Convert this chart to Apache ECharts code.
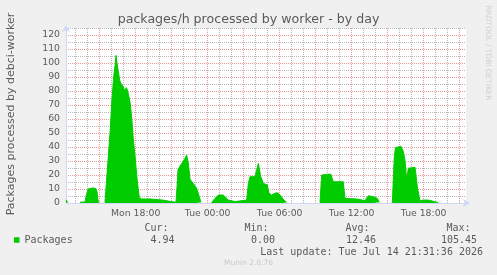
<!DOCTYPE html>
<html>
<head>
<meta charset="utf-8">
<script src="https://cdn.jsdelivr.net/npm/echarts@6/dist/echarts.min.js"></script>
<style>
  html, body { margin: 0; padding: 0; background: #f0f0f0; }
  #chart { width: 497px; height: 275px; }
</style>
</head>
<body>
<div id="chart"></div>
<script>
// ---- data (time in hours since Mon 00:00, value in packages/h; null = no data) ----
const times = [
  12.19, 12.30, 12.36, 12.8,
  13.36, 13.78, 13.90, 14.03, 14.11, 14.44, 14.69, 14.78, 14.86, 14.94, 15.2,
  15.44, 15.69, 15.86, 16.03, 16.19, 16.28, 16.36, 16.44, 16.53, 16.69, 16.83, 16.97, 17.11, 17.20, 17.30, 17.39,
  17.53, 17.67, 17.80, 17.94, 18.14, 18.30, 18.50, 19.19, 19.25, 20.25, 20.32, 20.95, 21.00, 21.36, 21.45, 21.53,
  21.84, 22.11, 22.25, 22.39, 22.53, 22.80, 23.08, 23.30, 23.44, 23.8,
  24.33, 24.61, 24.89, 25.30, 25.44, 25.72, 25.86, 26.28, 26.42, 27.25, 27.39, 27.53, 27.94, 28.09, 28.22, 28.30,
  28.42, 28.64, 28.97, 29.11, 29.33, 29.61, 29.80, 30.03, 30.30, 30.58, 31.0,
  33.36, 33.50, 33.64, 34.25, 34.47, 35.30, 35.44, 36.42, 36.55, 37.11, 37.39, 37.80, 38.14, 38.30, 38.8,
  39.39, 39.55, 39.65, 39.80, 40.10, 40.30, 40.44, 40.59, 40.72, 40.86, 41.28, 41.47, 41.69, 41.97, 42.39, 42.80, 43.22
];
const values = [
  2.2, 1.8, 0.5, null,
  0.5, 0.8, 6, 10, 10.8, 10.8, 10.2, 8, 2, 0.8, null,
  0.5, 30, 50, 75, 92, 98, 105.45, 100, 95, 87, 84.5, 83, 79.5, 82.5, 81, 78,
  72, 61, 46, 34, 15, 4, 2.9, 2.9, 2.2, 2.1, 1.0, 1.0, 0.6, 0.6, 12, 24,
  28.3, 31.9, 34.3, 28.3, 17, 14, 10.5, 4.5, 0.5, null,
  0.3, 3.3, 5.7, 5.7, 4.5, 2.1, 1.0, 1.0, 2.1, 2.1, 14, 18.8, 18.8, 23.6, 28.3, 29.5,
  19, 14, 12.9, 7, 5.7, 6.9, 7.4, 5.7, 2.6, 0.5, null,
  0.3, 20, 20.7, 20.7, 15.2, 15.2, 3.3, 2.9, 1.7, 1.7, 5.2, 4.5, 3.3, 0.5, null,
  0.3, 33, 39.5, 40.5, 40.5, 37, 30.7, 16.4, 24.8, 26, 25.5, 11.6, 1.5, 2.1, 2.1, 1.2, 0.3
];
const seriesName = 'Packages';
const xTickHours = [18, 24, 30, 36, 42];
const xTickLabels = ['Mon 18:00', 'Tue 00:00', 'Tue 06:00', 'Tue 12:00', 'Tue 18:00'];
const yTickValues = [0, 10, 20, 30, 40, 50, 60, 70, 80, 90, 100, 110, 120];
const statLabels = ['Cur:', 'Min:', 'Avg:', 'Max:'];
const statValues = ['4.94', '0.00', '12.46', '105.45'];
const titleText = 'packages/h processed by worker - by day';
const yAxisTitle = 'Packages processed by debci-worker';
const lastUpdate = 'Last update: Tue Jul 14 21:31:36 2026';
const watermark = 'Munin 2.0.76';
const sideText = 'RRDTOOL / TOBI OETIKER';

// ---- layout ----
const tStart = 12 + 11 / 60 + 36 / 3600;   // Mon 12:11:36
const tEnd = 45 + 31 / 60 + 36 / 3600;     // Tue 21:31:36
const plot = { left: 66, top: 28, width: 400, height: 175 };
const pxPerHour = plot.width / (tEnd - tStart);
const hFirst = Math.ceil(tStart), hLast = Math.floor(tEnd);

const SANS = 'DejaVu Sans';
const MONO = 'DejaVu Sans Mono';
const FONT_COL = '#5a5a5a';
const GRID_COL = 'rgba(144,144,144,0.65)';
const MGRID_COL = 'rgba(224,80,80,0.6)';
const AXIS_COL = '#cfd6f8';

const data = times.map((t, i) => [t, values[i] === null ? '-' : values[i]]);

const chart = echarts.init(document.getElementById('chart'), null, { renderer: 'canvas' });

const statHeadRight = [168.5, 268.5, 369.5, 470.5];
const statValRight = [174.5, 275, 376, 477];
const graphics = [
  { type: 'text', x: 11, y: 114, rotation: Math.PI / 2,
    style: { text: yAxisTitle, font: '11px "' + SANS + '"', fill: FONT_COL, align: 'center', verticalAlign: 'middle' } },
  { type: 'text', x: 488, y: 53, rotation: -Math.PI / 2,
    style: { text: sideText, font: '7.4px "' + SANS + '"', fill: '#cfcfcf', align: 'center', verticalAlign: 'middle' } },
  { type: 'text', x: 483, y: 252,
    style: { text: lastUpdate, font: '10px "' + MONO + '"', fill: FONT_COL, align: 'right', verticalAlign: 'middle' } },
  { type: 'text', x: 248.5, y: 263.5,
    style: { text: watermark, font: '7.5px "' + SANS + '"', fill: '#c8c8c8', align: 'center', verticalAlign: 'middle' } }
];
statLabels.forEach((s, i) => {
  graphics.push({ type: 'text', x: statHeadRight[i], y: 228.5,
    style: { text: s, font: '10px "' + MONO + '"', fill: FONT_COL, align: 'right', verticalAlign: 'middle' } });
  graphics.push({ type: 'text', x: statValRight[i], y: 240.3,
    style: { text: statValues[i], font: '10px "' + MONO + '"', fill: FONT_COL, align: 'right', verticalAlign: 'middle' } });
});

chart.setOption({
  animation: false,
  backgroundColor: '#f0f0f0',
  title: {
    text: titleText, left: 'center', top: 12, padding: 0,
    textStyle: { fontFamily: SANS, fontSize: 12.6, fontWeight: 'normal', color: FONT_COL, lineHeight: 15 }
  },
  legend: {
    data: [seriesName], left: 14, top: 235, padding: 0, icon: 'rect',
    itemWidth: 5.5, itemHeight: 5.5, itemGap: 10,
    textStyle: { fontFamily: MONO, fontSize: 10, color: FONT_COL }
  },
  grid: [
    { left: plot.left, top: plot.top, width: plot.width, height: plot.height,
      show: true, backgroundColor: '#ffffff', borderWidth: 0, containLabel: false },
    { left: plot.left + (hFirst - tStart) * pxPerHour, top: plot.top,
      width: (hLast - hFirst) * pxPerHour, height: plot.height, containLabel: false }
  ],
  xAxis: [
    { type: 'value', gridIndex: 0, min: tStart, max: tEnd, z: 1,
      axisLine: { show: true, lineStyle: { color: AXIS_COL, width: 1 }, symbol: ['none', 'arrow'], symbolSize: [6, 7], symbolOffset: [0, 4] },
      axisTick: { show: false }, axisLabel: { show: false }, splitLine: { show: false } },
    { type: 'value', gridIndex: 1, min: hFirst, max: hLast, interval: 1, z: 1,
      axisLine: { show: false }, axisTick: { show: false },
      axisLabel: { show: true, margin: 5, fontFamily: SANS, fontSize: 9.3, lineHeight: 11, color: FONT_COL,
        formatter: v => { const k = xTickHours.indexOf(Math.round(v)); return k >= 0 ? xTickLabels[k] : ''; } },
      splitLine: { show: true, lineStyle: { color: [GRID_COL, GRID_COL, MGRID_COL], width: 1, type: [1, 1] } } }
  ],
  yAxis: [
    { type: 'value', gridIndex: 0, min: 0, max: 125, interval: 5, z: 1,
      axisLine: { show: true, lineStyle: { color: AXIS_COL, width: 1 }, symbol: ['none', 'arrow'], symbolSize: [6, 7], symbolOffset: [0, 3] },
      axisTick: { show: false },
      axisLabel: { show: true, margin: 6, fontFamily: SANS, fontSize: 9.3, color: FONT_COL,
        formatter: v => yTickValues.indexOf(v) >= 0 ? String(v) : '' },
      splitLine: { show: true, lineStyle: { color: [MGRID_COL, GRID_COL], width: 1, type: [1, 1] } } },
    { type: 'value', gridIndex: 1, min: 0, max: 125, show: false, splitLine: { show: false } }
  ],
  series: [
    { name: seriesName, type: 'line', xAxisIndex: 0, yAxisIndex: 0, data: data,
      showSymbol: false, connectNulls: false, color: '#00cc00',
      lineStyle: { color: '#00cc00', width: 1 },
      areaStyle: { color: '#00cc00', opacity: 1 } }
  ],
  graphic: graphics
});
</script>
</body>
</html>
